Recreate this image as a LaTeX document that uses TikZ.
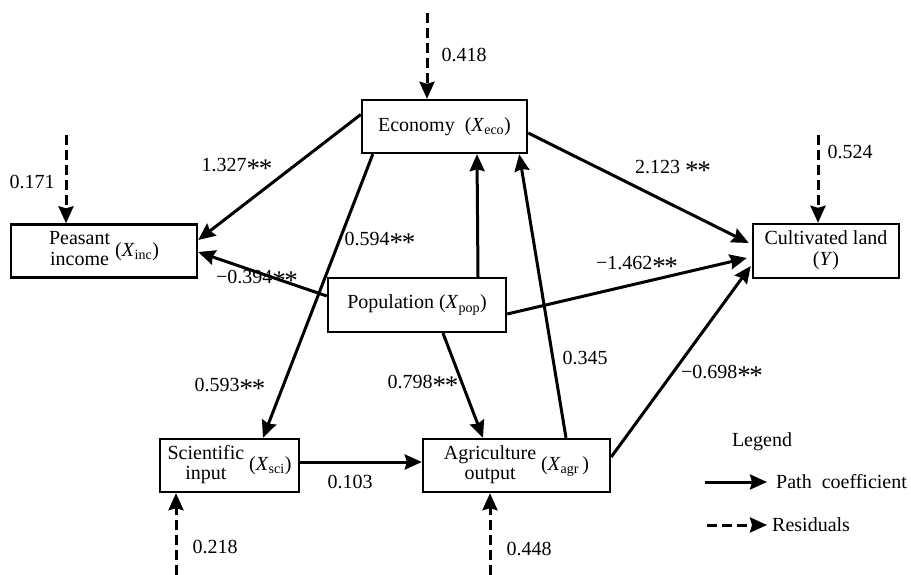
\documentclass[tikz,border=0pt]{standalone}
\usepackage{fontspec}
\usepackage{graphicx}
\setmainfont{Liberation Serif}
\usetikzlibrary{arrows.meta,calc}
\newcommand{\xv}[1]{\textit{X}\textsubscript{#1}}
\newcommand{\sig}{\raisebox{-0.33em}{\scalebox{1.35}{*\kern-0.05em*}}}
\begin{document}
\begin{tikzpicture}[x=1pt,y=-1pt,
  every node/.style={font=\fontsize{20}{20.5}\selectfont},
  box/.style={draw,line width=2.4pt,inner sep=0pt,align=center},
  path/.style={line width=3pt,-{Stealth[length=17pt,width=15pt,inset=2pt]}},
  resid/.style={path,dash pattern=on 10pt off 5pt},
  lab/.style={inner sep=0pt}]
\useasboundingbox (0,0) rectangle (911,575);
% boxes
\node[box,minimum width=165pt,minimum height=53pt] (eco) at (444.5,126.5) {Economy~ (\xv{eco})};
\node[box,minimum width=186pt,minimum height=53pt] (inc) at (104,251)
  {\begin{tabular}{@{}c@{}}Peasant\\income\end{tabular}\ (\xv{inc})};
\node[box,minimum width=178pt,minimum height=54pt] (pop) at (417,305) {Population (\xv{pop})};
\node[box,minimum width=146pt,minimum height=54pt] (Y) at (826,251)
  {\begin{tabular}{@{}c@{}}Cultivated land\\(\textit{Y})\end{tabular}};
\node[box,minimum width=139pt,minimum height=53pt] (sci) at (229.5,465.5)
  {\begin{tabular}{@{}c@{}}Scientific\\input\end{tabular}\ (\xv{sci})};
\node[box,minimum width=187pt,minimum height=53pt] (agr) at (516.5,465.5)
  {\begin{tabular}{@{}c@{}}Agriculture\\output\end{tabular}\ (\xv{agr}\,)};
% path arrows
\draw[path] ($(eco.west)+(0,-12)$) -- ($(inc.east)+(0,-11)$);
\draw[path] ($(eco.east)+(0,6.5)$) -- ($(Y.west)+(-3,-8)$);
\draw[path] ($(eco.south west)+(12,0)$) -- ($(sci.north)+(33.5,0)$);
\draw[path] ($(pop.north)+(61,0)$) -- ($(eco.south)+(32.5,0)$);
\draw[path] ($(agr.north)+(49.5,0)$) -- ($(eco.south east)+(-9,0)$);
\draw[path] ($(pop.west)+(0,-9)$) -- ($(inc.east)+(0,1)$);
\draw[path] ($(pop.east)+(0,9)$) -- ($(Y.west)+(-5,7)$);
\draw[path] ($(pop.south)+(26,0)$) -- ($(agr.north)+(-33.5,0)$);
\draw[path] ($(agr.east)+(0,-8.5)$) -- ($(Y.west)+(-1,15)$);
\draw[path] ($(sci.east)+(0,-3.5)$) -- ($(agr.west)+(0,-3.5)$);
% residuals
\coordinate (r1) at (427,13);
\coordinate (r2) at (66,135);
\coordinate (r3) at (818,135);
\coordinate (r4) at (176,575);
\coordinate (r5) at (490,575);
\draw[resid] (r1) -- ($(eco.north)+(-17.5,0)$);
\draw[resid] (r2) -- ($(inc.north)+(-38,0)$);
\draw[resid] (r3) -- ($(Y.north)+(-8,0)$);
\draw[resid] (r4) -- ($(sci.south)+(-53.5,0)$);
\draw[resid] (r5) -- ($(agr.south)+(-26.5,0)$);
% labels
\node[lab] (l1) at (464,55) {0.418};
\node[lab] (l2) at (32,182) {0.171};
\node[lab] (l3) at (850,152) {0.524};
\node[lab] (l4) at (215,547) {0.218};
\node[lab] (l5) at (529,549) {0.448};
\node[lab] (l6) at (237,168) {1.327\sig};
\node[lab] (l7) at (673,170) {2.123 \sig};
\node[lab] (l8) at (380,242) {0.594\sig};
\node[lab] (l9) at (257,280) {−0.394\sig};
\node[lab] (l10) at (637,266) {−1.462\sig};
\node[lab] (l11) at (230,388) {0.593\sig};
\node[lab] (l12) at (423,385) {0.798\sig};
\node[lab] (l13) at (585,358) {0.345};
\node[lab] (l14) at (722,375) {−0.698\sig};
\node[lab] (l15) at (350,482) {0.103};
% legend
\node[lab] (leg) at (762,442) {Legend};
\coordinate (lp1) at (705,482);
\coordinate (lp2) at (767,482);
\coordinate (lr1) at (707,525);
\coordinate (lr2) at (767,525);
\draw[path] (lp1) -- (lp2);
\draw[resid] (lr1) -- (lr2);
\node[lab,anchor=west] (lpt) at (776,482) {Path~ coefficient};
\node[lab,anchor=west] (lrt) at (772,525) {Residuals};
\end{tikzpicture}
\end{document}
